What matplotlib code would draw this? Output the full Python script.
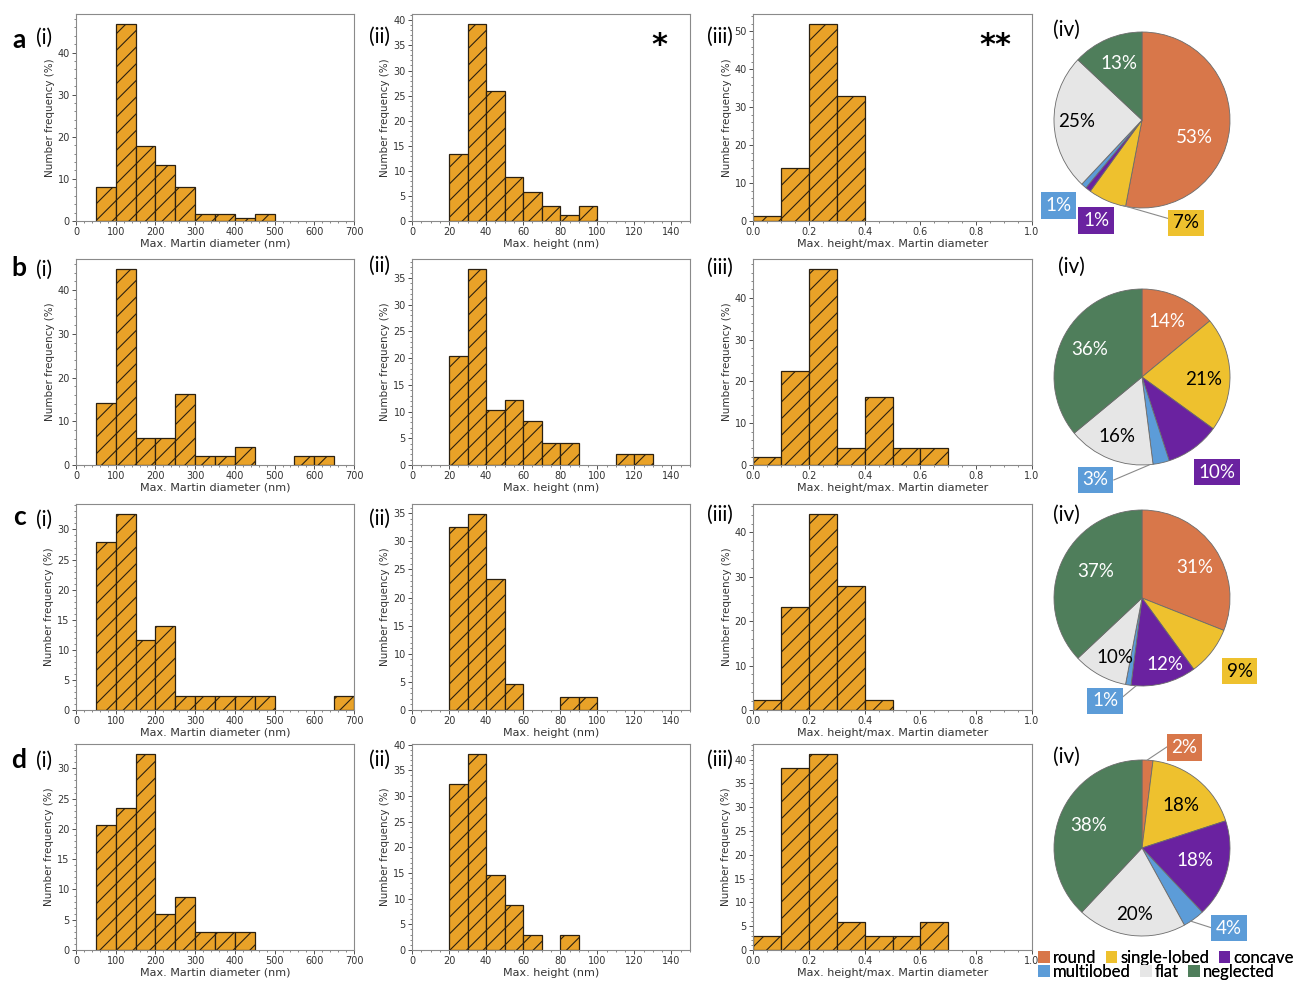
import numpy as np
import matplotlib
matplotlib.use("Agg")
import matplotlib.pyplot as plt
from matplotlib.ticker import MultipleLocator, AutoMinorLocator, FormatStrFormatter
from matplotlib.patches import Patch

# ---- data (percent per bin) ----
dia_bins = np.arange(50, 700, 50)          # lower edges, width 50 nm
hgt_bins = np.arange(20, 140, 10)          # lower edges, width 10 nm
rat_bins = np.arange(0.0, 0.95, 0.1)       # lower edges, width 0.1

dia_a = [8.1, 46.8, 17.9, 13.3, 8.1, 1.7, 1.7, 0.6, 1.7, 0, 0, 0, 0]
dia_b = [14.3, 44.9, 6.1, 6.1, 16.3, 2.0, 2.0, 4.1, 0, 0, 2.0, 2.0, 0]
dia_c = [27.9, 32.6, 11.6, 14.0, 2.3, 2.3, 2.3, 2.3, 2.3, 0, 0, 0, 2.3]
dia_d = [20.6, 23.5, 32.4, 5.9, 8.8, 2.9, 2.9, 2.9, 0, 0, 0, 0, 0]

hgt_a = [13.3, 39.3, 26.0, 8.7, 5.8, 2.9, 1.2, 2.9, 0, 0, 0, 0]
hgt_b = [20.4, 36.7, 10.2, 12.2, 8.2, 4.1, 4.1, 0, 0, 2.0, 2.0, 0]
hgt_c = [32.6, 34.9, 23.3, 4.7, 0, 0, 2.3, 2.3, 0, 0, 0, 0]
hgt_d = [32.4, 38.2, 14.7, 8.8, 2.9, 0, 2.9, 0, 0, 0, 0, 0]

rat_a = [1.2, 13.9, 52.0, 32.9, 0, 0, 0, 0, 0, 0]
rat_b = [2.0, 22.4, 46.9, 4.1, 16.3, 4.1, 4.1, 0, 0, 0]
rat_c = [2.3, 23.3, 44.2, 27.9, 2.3, 0, 0, 0, 0, 0]
rat_d = [2.9, 38.2, 41.2, 5.9, 2.9, 2.9, 5.9, 0, 0, 0]

shape_names = ["round", "single-lobed", "concave", "multilobed", "flat", "neglected"]
pie_a = [53, 7, 1, 1, 25, 13]
pie_b = [14, 21, 10, 3, 16, 36]
pie_c = [31, 9, 12, 1, 10, 37]
pie_d = [2, 18, 18, 4, 20, 38]

shape_colors = ["#D8774A", "#EEC12E", "#6A22A0", "#5C9CD8", "#E6E6E6", "#4F7E5B"]
text_colors = ["white", "black", "white", "white", "black", "white"]

W, H = 1304, 981
BAR = "#E9A228"
plt.rcParams["hatch.linewidth"] = 0.8


def fx(x):
    return x / W


def fy(y):
    return 1 - y / H


def hist_panel(rect, lefts, width, heights, xlim, xmaj, ymaj, xlabel):
    x0, y0, x1, y1 = rect
    ax = fig.add_axes([fx(x0), fy(y1), fx(x1 - x0), (y1 - y0) / H])
    lefts = np.asarray(lefts)
    heights = np.asarray(heights, dtype=float)
    keep = heights > 0
    ax.bar(lefts[keep], heights[keep], width=width, align="edge", color=BAR,
           edgecolor="#2b2010", linewidth=0.9, hatch="//")
    ax.set_xlim(*xlim)
    ax.xaxis.set_major_locator(MultipleLocator(xmaj))
    ax.yaxis.set_major_locator(MultipleLocator(ymaj))
    ax.xaxis.set_minor_locator(AutoMinorLocator())
    ax.yaxis.set_minor_locator(AutoMinorLocator())
    ax.tick_params(which="major", labelsize=7, length=3, width=0.6, colors="#333333", pad=1.5)
    ax.tick_params(which="minor", length=1.5, width=0.5, colors="#555555")
    for s in ax.spines.values():
        s.set_color("#8a8a8a")
        s.set_linewidth(0.8)
    ax.set_xlabel(xlabel, fontsize=8, color="#333333", labelpad=1)
    ax.set_ylabel("Number frequency (%)", fontsize=7.5, color="#333333", labelpad=2)
    return ax


def pie_panel(cx, cy, values, inside, boxes):
    R = 88.0
    span = 135.0
    ax = fig.add_axes([fx(cx - span), fy(cy + span), 2 * span / W, 2 * span / H])
    ax.pie(values, colors=shape_colors, startangle=90, counterclock=False, radius=1,
           wedgeprops=dict(edgecolor="#6b6b6b", linewidth=0.6))
    lim = span / R
    ax.set_xlim(-lim, lim)
    ax.set_ylim(-lim, lim)
    ax.set_aspect("equal")
    ax.axis("off")
    for i, (tx, ty) in inside.items():
        ax.text(tx, ty, f"{values[i]}%", ha="center", va="center", fontsize=13.5,
                family="Lato", color=text_colors[i])
    for i, (tx, ty, line) in boxes.items():
        if line is not None:
            ax.plot([line[0], line[2]], [line[1], line[3]], color="#8a8a8a", lw=0.8)
        ax.text(tx, ty, f"{values[i]}%", ha="center", va="center", fontsize=13.5,
                family="Lato", color=text_colors[i],
                bbox=dict(boxstyle="square,pad=0.25", facecolor=shape_colors[i], edgecolor="none"))
    return ax


fig = plt.figure(figsize=(W / 100, H / 100), dpi=100)

rows = [(14, 221), (259, 465), (504, 710), (744, 950)]
cols = [(76, 354), (412, 690), (753, 1032)]
dia_sets = [dia_a, dia_b, dia_c, dia_d]
hgt_sets = [hgt_a, hgt_b, hgt_c, hgt_d]
rat_sets = [rat_a, rat_b, rat_c, rat_d]
dia_step = [10, 10, 5, 5]
hgt_step = [5, 5, 5, 5]
rat_step = [10, 10, 10, 5]

for r, (y0, y1) in enumerate(rows):
    hist_panel((cols[0][0], y0, cols[0][1], y1), dia_bins, 50, dia_sets[r], (0, 700), 100,
               dia_step[r], "Max. Martin diameter (nm)")
    hist_panel((cols[1][0], y0, cols[1][1], y1), hgt_bins, 10, hgt_sets[r], (0, 150), 20,
               hgt_step[r], "Max. height (nm)")
    ax3 = hist_panel((cols[2][0], y0, cols[2][1], y1), rat_bins, 0.1, rat_sets[r], (0, 1.0), 0.2,
                     rat_step[r], "Max. height/max. Martin diameter")
    ax3.xaxis.set_major_formatter(FormatStrFormatter("%.1f"))

# pies
pie_panel(1142, 120, pie_a,
          {0: (0.60, -0.20), 4: (-0.74, -0.02), 5: (-0.26, 0.64)},
          {3: (-0.95, -0.97, None), 2: (-0.52, -1.14, None),
           1: (0.50, -1.17, (-0.22, -0.97, 0.30, -1.12))})
pie_panel(1142, 377, pie_b,
          {0: (0.28, 0.63), 1: (0.70, -0.03), 4: (-0.28, -0.68), 5: (-0.59, 0.31)},
          {3: (-0.53, -1.17, (0.08, -1.0, -0.32, -1.17)), 2: (0.85, -1.08, None)})
pie_panel(1142, 598, pie_c,
          {0: (0.60, 0.35), 2: (0.26, -0.76), 4: (-0.31, -0.68), 5: (-0.53, 0.30)},
          {1: (1.11, -0.83, None), 3: (-0.42, -1.17, (-0.07, -1.0, -0.25, -1.15))})
pie_panel(1142, 848, pie_d,
          {1: (0.44, 0.48), 2: (0.60, -0.14), 4: (-0.09, -0.75), 5: (-0.61, 0.26)},
          {0: (0.48, 1.14, (0.06, 1.0, 0.30, 1.16)), 3: (0.99, -0.91, (0.55, -0.83, 0.80, -0.91))})

# panel labels
row_letters = ["a", "b", "c", "d"]
letter_y = [40, 268, 517, 760]
roman_pos = [
    [(44, 38), (380, 37), (720, 37), (1066, 30)],
    [(44, 270), (380, 266), (720, 268), (1071, 267)],
    [(44, 520), (380, 519), (720, 515), (1066, 515)],
    [(44, 761), (380, 760), (720, 760), (1066, 757)],
]
romans = ["(i)", "(ii)", "(iii)", "(iv)"]
for r in range(4):
    fig.text(fx(19), fy(letter_y[r]), row_letters[r], fontsize=19, fontweight="bold",
             family="Lato", ha="center", va="center")
    for c in range(4):
        x, y = roman_pos[r][c]
        fig.text(fx(x), fy(y), romans[c], fontsize=15, family="Lato", ha="center", va="center")

fig.text(fx(659), fy(45), "*", fontsize=22, fontweight="bold", ha="center", va="center")
fig.text(fx(995), fy(45), "**", fontsize=22, fontweight="bold", ha="center", va="center")

# legend: two free-flowing rows
leg_kw = dict(ncol=3, loc="center left", frameon=False, prop={"family": "Lato", "size": 12},
              handlelength=0.7, handleheight=0.7, handletextpad=0.2, columnspacing=0.55,
              borderpad=0, borderaxespad=0)
for k, ypix in enumerate([958, 972]):
    idx = [3 * k, 3 * k + 1, 3 * k + 2]
    hs = [Patch(facecolor=shape_colors[i], edgecolor="none") for i in idx]
    leg = fig.legend(hs, [shape_names[i] for i in idx], bbox_to_anchor=(fx(1038), fy(ypix)), **leg_kw)
    fig.add_artist(leg)

fig.savefig("out.png", dpi=100)
